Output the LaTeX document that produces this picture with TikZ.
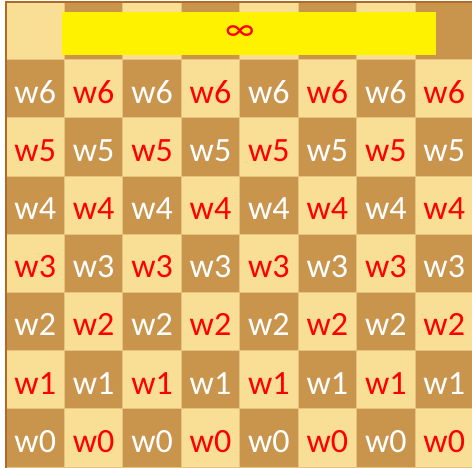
\documentclass[tikz,border=0pt]{standalone}
\usepackage{fontspec}
\setmainfont{Carlito}
\definecolor{lighttan}{RGB}{249,222,150}
\definecolor{darktan}{RGB}{201,149,77}
\definecolor{edgec}{RGB}{176,108,38}
\definecolor{gridc}{RGB}{230,194,126}
\definecolor{barc}{RGB}{255,242,0}
\definecolor{redtxt}{RGB}{255,0,0}
\tikzset{
  cellbox/.style={rectangle, draw=gridc, line width=0.8pt, minimum width=58.43pt, minimum height=58.2pt, inner sep=0pt, outer sep=0pt},
  toprowbox/.style={rectangle, draw=gridc, line width=0.8pt, minimum width=58.43pt, minimum height=57pt, inner sep=0pt, outer sep=0pt},
  lbl/.style={font=\fontsize{34}{34}\selectfont, inner sep=0pt, anchor=center},
  barbox/.style={rectangle, fill=barc, minimum width=374pt, minimum height=43.3pt, inner sep=0pt, outer sep=0pt},
  inf/.style={font=\fontsize{34}{34}\selectfont, text=redtxt, inner sep=0pt}
}
\begin{document}
\begin{tikzpicture}[x=1pt,y=-1pt]
\useasboundingbox (0,0) rectangle (472,467);
\clip (0,0) rectangle (472,467);
\fill[white] (0,0) rectangle (472,467);
% top row
\foreach \c in {0,...,7}{
  \pgfmathtruncatemacro{\pty}{mod(\c,2)}
  \ifnum\pty=0 \def\fc{lighttan}\else\def\fc{darktan}\fi
  \node[toprowbox, fill=\fc] (top-\c) at ({6+58.43*\c+29.215},31) {};
}
% board rows
\foreach \r in {1,...,7}{
  \foreach \c in {0,...,7}{
    \pgfmathtruncatemacro{\pty}{mod(\r+\c,2)}
    \pgfmathtruncatemacro{\w}{7-\r}
    \ifnum\pty=0 \def\fc{lighttan}\def\tc{redtxt}\else\def\fc{darktan}\def\tc{white}\fi
    \node[cellbox, fill=\fc] (cell-\r-\c) at ({6+58.43*\c+29.215},{59.5+58.2*(\r-1)+29.1}) {};
    \node[lbl, text=\tc] (t-\r-\c) at ([yshift=-3.5pt]cell-\r-\c.center) {w\w};
  }
}
% yellow bar
\node[barbox] (bar) at (249,33.35) {};
\node[inf] (infty) at (240,33.5) {∞};
% border lines
\draw[edgec, line width=2pt] (5.5,2) -- (5.5,470);
\draw[edgec, line width=2pt] (4.5,2) -- (475,2);
\end{tikzpicture}
\end{document}
